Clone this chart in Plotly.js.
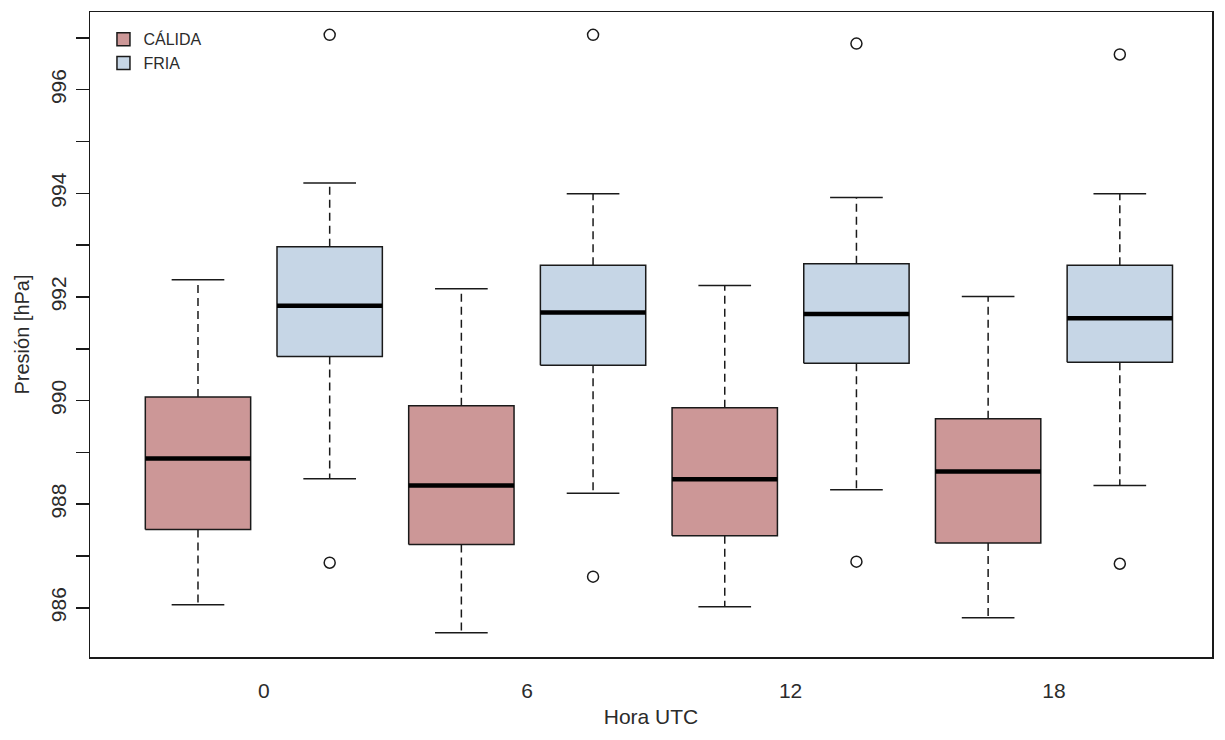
<!DOCTYPE html>
<html>
<head>
<meta charset="utf-8">
<script src="https://cdn.plot.ly/plotly-3.0.1.min.js"></script>
<style>
  html, body { margin: 0; padding: 0; background: #fff; }
  #grafico { width: 1225px; height: 740px; }
</style>
</head>
<body>
<div id="grafico"></div>
<script>
// Hora UTC de cada par de cajas
const horas = ['0', '6', '12', '18'];

// Masa CÁLIDA: estadísticos de presión [hPa]
const calidaMin     = [986.06, 985.52, 986.02, 985.81];
const calidaQ1      = [987.51, 987.22, 987.39, 987.25];
const calidaMediana = [988.88, 988.36, 988.48, 988.63];
const calidaQ3      = [990.07, 989.90, 989.86, 989.65];
const calidaMax     = [992.33, 992.16, 992.22, 992.01];

// Masa FRIA: estadísticos de presión [hPa]
const friaMin     = [988.49, 988.21, 988.28, 988.36];
const friaQ1      = [990.85, 990.68, 990.72, 990.74];
const friaMediana = [991.83, 991.70, 991.67, 991.59];
const friaQ3      = [992.97, 992.61, 992.64, 992.61];
const friaMax     = [994.20, 993.99, 993.92, 993.99];
const friaAtipicosBajos = [986.87, 986.60, 986.89, 986.85];
const friaAtipicosAltos = [997.06, 997.06, 996.89, 996.68];

// Marcas del eje de presión
const marcasPresion = [986, 987, 988, 989, 990, 991, 992, 993, 994, 995, 996, 997];
const etiquetasPresion = ['986', '', '988', '', '990', '', '992', '', '994', '', '996', ''];

const colorCalida = '#CC9797';
const colorFria = '#C6D6E6';
const tinta = '#1a1a1a';
const fuente = '"Liberation Sans Narrow", "Arial Narrow", "Liberation Sans", Arial, sans-serif';

const semiCaja = 0.4;   // media anchura de caja
const semiTope = 0.2;   // media anchura del tope del bigote

// posiciones: cálida en 1,3,5,7; fría en 2,4,6,8
const posCalida = horas.map((_, i) => 2 * i + 1);
const posFria = horas.map((_, i) => 2 * i + 2);

function cajas(pos, q1, q3) {
  const x = [], y = [];
  pos.forEach((p, i) => {
    x.push(p - semiCaja, p + semiCaja, p + semiCaja, p - semiCaja, p - semiCaja, null);
    y.push(q1[i], q1[i], q3[i], q3[i], q1[i], null);
  });
  return { x, y };
}
function horizontales(pos, vals, semi) {
  const x = [], y = [];
  pos.forEach((p, i) => {
    x.push(p - semi, p + semi, null);
    y.push(vals[i], vals[i], null);
  });
  return { x, y };
}
function bigotes(pos, q1, q3, lo, hi) {
  const x = [], y = [];
  pos.forEach((p, i) => {
    x.push(p, p, null, p, p, null);
    y.push(q3[i], hi[i], null, q1[i], lo[i], null);
  });
  return { x, y };
}

function grupo(pos, mn, q1, med, q3, mx, relleno) {
  const c = cajas(pos, q1, q3);
  const b = bigotes(pos, q1, q3, mn, mx);
  const tMin = horizontales(pos, mn, semiTope);
  const tMax = horizontales(pos, mx, semiTope);
  const m = horizontales(pos, med, semiCaja);
  return [
    { type: 'scatter', mode: 'lines', x: b.x, y: b.y, showlegend: false, hoverinfo: 'skip',
      line: { color: tinta, width: 1.5, dash: '8px,5px' } },
    { type: 'scatter', mode: 'lines', x: tMin.x.concat(tMax.x), y: tMin.y.concat(tMax.y),
      showlegend: false, hoverinfo: 'skip', line: { color: tinta, width: 1.5 } },
    { type: 'scatter', mode: 'lines', x: c.x, y: c.y, fill: 'toself', fillcolor: relleno,
      showlegend: false, hoverinfo: 'skip', line: { color: tinta, width: 1.5 } },
    { type: 'scatter', mode: 'lines', x: m.x, y: m.y, showlegend: false, hoverinfo: 'skip',
      line: { color: '#000', width: 4.5 } }
  ];
}

const trazas = []
  .concat(grupo(posCalida, calidaMin, calidaQ1, calidaMediana, calidaQ3, calidaMax, colorCalida))
  .concat(grupo(posFria, friaMin, friaQ1, friaMediana, friaQ3, friaMax, colorFria));

// valores atípicos de la masa fría
trazas.push({
  type: 'scatter', mode: 'markers',
  x: posFria.concat(posFria), y: friaAtipicosBajos.concat(friaAtipicosAltos),
  showlegend: false, hoverinfo: 'y',
  marker: { symbol: 'circle-open', size: 11, color: tinta, line: { width: 1.5, color: tinta } }
});

// entradas de la leyenda
[['CÁLIDA', colorCalida], ['FRIA', colorFria]].forEach(([nombre, col]) => {
  trazas.push({
    type: 'scatter', mode: 'markers', x: [null], y: [null], name: nombre,
    marker: { symbol: 'square', size: 13, color: col, line: { width: 1.5, color: tinta } }
  });
});

const layout = {
  width: 1225, height: 740,
  margin: { l: 90, r: 13, t: 12, b: 83 },
  paper_bgcolor: '#fff', plot_bgcolor: '#fff',
  font: { family: fuente, color: '#2b2b2b', size: 20 },
  showlegend: true,
  legend: {
    x: 0.012, y: 0.984, xanchor: 'left', yanchor: 'top',
    bgcolor: 'rgba(0,0,0,0)', font: { size: 16, color: '#2b2b2b' },
    itemclick: false, itemdoubleclick: false
  },
  xaxis: {
    range: [0.18, 8.7], showgrid: false, zeroline: false,
    tickvals: [1.5, 3.5, 5.5, 7.5], ticktext: horas, ticks: '',
    ticklabelstandoff: 14,
    tickfont: { size: 21 },
    showline: true, mirror: true, linecolor: tinta, linewidth: 1.5,
    title: { text: 'Hora UTC', font: { size: 21 }, standoff: 8 }
  },
  yaxis: {
    range: [985.05, 997.5], showgrid: false, zeroline: false,
    tickvals: marcasPresion, ticktext: etiquetasPresion,
    ticks: 'outside', ticklen: 13, tickwidth: 1.5, tickcolor: tinta,
    tickangle: -90, tickfont: { size: 21 }, ticklabelstandoff: 1,
    showline: true, mirror: true, linecolor: tinta, linewidth: 1.5,
    title: { text: 'Presión [hPa]', font: { size: 20 }, standoff: 12 }
  }
};

Plotly.newPlot('grafico', trazas, layout, { displayModeBar: false, staticPlot: true });
</script>
</body>
</html>
